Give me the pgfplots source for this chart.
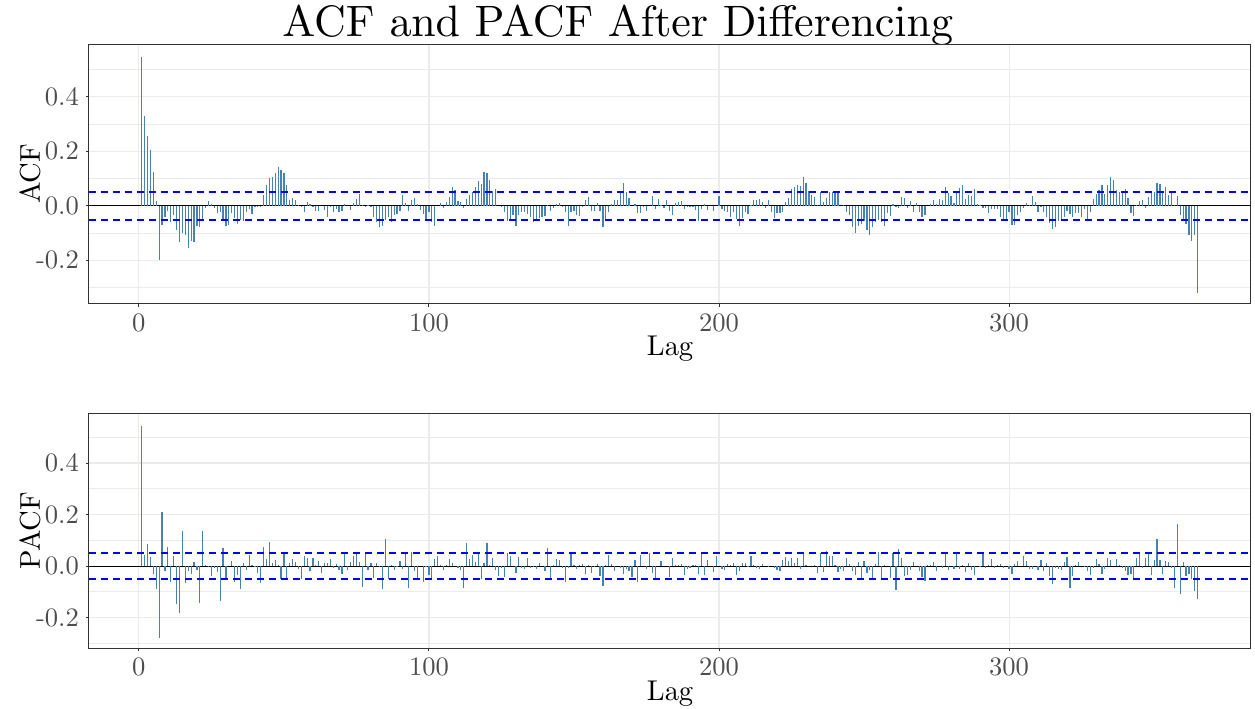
\documentclass[border=0pt]{standalone}
\usepackage{pgfplots}
\pgfplotsset{compat=1.18}
\definecolor{barblue}{RGB}{70,130,180}
\definecolor{gridgray}{RGB}{235,235,235}
\definecolor{framegray}{RGB}{51,51,51}
\definecolor{tickgray}{RGB}{77,77,77}
\definecolor{dashblue}{RGB}{0,0,255}
\font\tickfont=cmr10 at 13.3pt
\font\labfont=cmr10 at 14.3pt
\font\titfont=cmr10 at 22pt
\pgfplotsset{acfstyle/.style={
  scale only axis, width=581pt,
  xmin=-17.2, xmax=383.4,
  xtick={0,100,200,300}, xticklabels={0,100,200,300},
  ytick={-0.2,0,0.2,0.4}, yticklabels={-0.2,0.0,0.2,0.4},
  minor ytick={-0.3,-0.1,0.1,0.3,0.5},
  ymajorgrids, yminorgrids, xmajorgrids,
  grid style={gridgray, line width=0.55pt},
  minor grid style={gridgray, line width=0.45pt},
  axis line style={framegray, line width=0.5pt},
  xtick pos=bottom, ytick pos=left,
  tick align=outside, major tick length=1.5pt, minor tick length=0pt,
  tick style={framegray, line width=0.5pt},
  ticklabel style={font=\tickfont, text=tickgray},
  label style={font=\labfont},
  xlabel=Lag,
  xlabel style={at={(axis description cs:0.5,0)}, anchor=base, yshift=-26pt},
  ylabel style={at={(axis description cs:-0.0422,0.5)}, anchor=base},
  clip=true,
}}
\pgfplotsset{cibound/.style={draw=dashblue, line width=0.8pt, dash pattern=on 3.5pt off 2.5pt, forget plot}}
\begin{document}
\begin{tikzpicture}
\path[use as bounding box] (0,0) rectangle (627.5pt,354pt);
\node[font=\titfont, anchor=base] at (309pt,335.5pt) {ACF and PACF After Differencing};
\begin{axis}[acfstyle, at={(44.5pt,202pt)}, anchor=south west, height=130pt,
  ymin=-0.36, ymax=0.594, ylabel=ACF]
\addplot[black, line width=0.5pt, forget plot] coordinates {(-17.2,0) (383.4,0)};
\addplot[ycomb, draw=barblue, line width=0.6pt, mark=none, forget plot] coordinates {
(1,0.548)(2,0.33)(3,0.256)(4,0.205)(5,0.124)(6,0.017)(7,-0.2)(8,-0.07)(9,-0.04)(10,-0.017)
(11,-0.06)(12,-0.032)(13,-0.09)(14,-0.133)(15,-0.1)(16,-0.105)(17,-0.155)(18,-0.13)(19,-0.133)(20,-0.072)
(21,-0.078)(22,-0.054)(23,-0.008)(24,0.017)(25,0.006)(26,-0.007)(27,-0.026)(28,-0.024)(29,-0.048)(30,-0.072)
(31,-0.07)(32,-0.027)(33,-0.044)(34,-0.067)(35,-0.05)(36,-0.054)(37,-0.021)(38,-0.013)(39,-0.03)(40,-0.002)
(41,-0.001)(42,-0.005)(43,0.04)(44,0.078)(45,0.101)(46,0.105)(47,0.121)(48,0.141)(49,0.133)(50,0.121)
(51,0.077)(52,0.022)(53,0.03)(54,0.022)(55,0.002)(56,-0.005)(57,-0.021)(58,0.016)(59,0.007)(60,-0.005)
(61,-0.02)(62,-0.017)(63,0)(64,-0.015)(65,-0.04)(66,-0.005)(67,-0.023)(68,-0.013)(69,-0.023)(70,-0.02)
(71,0.006)(72,0)(73,-0.015)(74,0.01)(75,0.026)(76,0.045)(77,0.002)(78,0.001)(79,0.004)(80,-0.005)
(81,-0.04)(82,-0.06)(83,-0.076)(84,-0.075)(85,-0.052)(86,-0.041)(87,-0.06)(88,-0.032)(89,-0.03)(90,-0.017)
(91,0.039)(92,0.011)(93,-0.017)(94,0.02)(95,0.03)(96,0.007)(97,-0.015)(98,-0.03)(99,-0.05)(100,-0.021)
(101,-0.06)(102,-0.073)(103,0)(104,0.01)(105,-0.007)(106,0.016)(107,0.032)(108,0.068)(109,0.06)(110,0.017)
(111,0.013)(112,-0.007)(113,0.026)(114,0.04)(115,0.052)(116,0.068)(117,0.093)(118,0.08)(119,0.123)(120,0.122)
(121,0.096)(122,0.056)(123,0.062)(124,0)(125,-0.005)(126,-0.023)(127,-0.054)(128,-0.048)(129,-0.032)(130,-0.072)
(131,-0.032)(132,-0.021)(133,-0.021)(134,-0.03)(135,-0.04)(136,-0.06)(137,-0.054)(138,-0.045)(139,-0.04)(140,-0.037)
(141,0.004)(142,-0.017)(143,-0.008)(144,0.006)(145,0.01)(146,-0.004)(147,-0.021)(148,-0.073)(149,-0.023)(150,-0.02)
(151,-0.033)(152,-0.037)(153,-0.005)(154,0.02)(155,0.034)(156,-0.017)(157,-0.017)(158,0.01)(159,-0.02)(160,-0.076)
(161,-0.048)(162,-0.023)(163,0.007)(164,0.02)(165,0.022)(166,0.048)(167,0.085)(168,0.052)(169,0.029)(170,0)
(171,0.007)(172,-0.027)(173,-0.027)(174,-0.005)(175,-0.017)(176,0)(177,0.037)(178,-0.011)(179,0.027)(180,0.004)
(181,-0.007)(182,0.022)(183,-0.017)(184,-0.032)(185,0.01)(186,0.015)(187,0.017)(188,-0.013)(189,-0.005)(190,0.001)
(191,-0.005)(192,-0.015)(193,-0.054)(194,-0.013)(195,0.006)(196,-0.015)(197,0)(198,-0.017)(199,0)(200,0.035)
(201,-0.013)(202,-0.017)(203,-0.023)(204,-0.04)(205,-0.021)(206,-0.048)(207,-0.072)(208,-0.044)(209,-0.024)(210,-0.03)
(211,0.005)(212,0.02)(213,0.023)(214,0.024)(215,0.016)(216,-0.008)(217,0.02)(218,-0.021)(219,-0.044)(220,-0.027)
(221,-0.027)(222,-0.023)(223,0.016)(224,0.029)(225,0.061)(226,0.068)(227,0.076)(228,0.072)(229,0.105)(230,0.084)
(231,0.056)(232,0.039)(233,0.034)(234,0.004)(235,0.052)(236,0.016)(237,0.029)(238,0.05)(239,0.05)(240,0.056)
(241,0.056)(242,0)(243,0.004)(244,-0.021)(245,-0.032)(246,-0.078)(247,-0.099)(248,-0.073)(249,-0.066)(250,-0.054)
(251,-0.087)(252,-0.106)(253,-0.078)(254,-0.06)(255,-0.05)(256,-0.06)(257,-0.072)(258,-0.027)(259,-0.038)(260,0.007)
(261,-0.002)(262,-0.007)(263,0.034)(264,0.029)(265,-0.008)(266,0.018)(267,-0.021)(268,0.01)(269,-0.023)(270,-0.04)
(271,-0.035)(272,0)(273,0.007)(274,0.02)(275,0.006)(276,0.024)(277,0.02)(278,0.068)(279,0.048)(280,0.035)
(281,0.011)(282,0.049)(283,0.066)(284,0.076)(285,0.024)(286,0.04)(287,0.035)(288,0.061)(289,0.007)(290,0.004)
(291,-0.007)(292,-0.008)(293,-0.027)(294,-0.013)(295,-0.013)(296,-0.011)(297,-0.041)(298,-0.051)(299,-0.048)(300,-0.023)
(301,-0.07)(302,-0.07)(303,-0.035)(304,-0.023)(305,-0.007)(306,0.01)(307,0.005)(308,0.037)(309,0.013)(310,-0.023)
(311,-0.002)(312,-0.023)(313,-0.041)(314,-0.061)(315,-0.084)(316,-0.078)(317,-0.054)(318,-0.054)(319,-0.041)(320,-0.017)
(321,-0.03)(322,-0.041)(323,-0.027)(324,-0.027)(325,-0.04)(326,-0.011)(327,-0.05)(328,-0.021)(329,0.024)(330,0.043)
(331,0.059)(332,0.076)(333,0.044)(334,0.076)(335,0.105)(336,0.095)(337,0.059)(338,0.05)(339,0.048)(340,0.061)
(341,0.029)(342,-0.026)(343,-0.038)(344,0.004)(345,0.017)(346,0.023)(347,-0.008)(348,0.034)(349,0.05)(350,0.052)
(351,0.083)(352,0.08)(353,0.05)(354,0.068)(355,0.04)(356,0.05)(357,0.004)(358,0.038)(359,-0.032)(360,-0.05)
(361,-0.068)(362,-0.106)(363,-0.129)(364,-0.105)(365,-0.32)
};
\addplot[cibound] coordinates {(-17.2,0.0513) (383.4,0.0513)};
\addplot[cibound] coordinates {(-17.2,-0.0513) (383.4,-0.0513)};
\end{axis}
\begin{axis}[acfstyle, at={(44.5pt,30pt)}, anchor=south west, height=117.5pt,
  ymin=-0.318, ymax=0.594, ylabel=PACF]
\addplot[black, line width=0.5pt, forget plot] coordinates {(-17.2,0) (383.4,0)};
\addplot[ycomb, draw=barblue, line width=0.6pt, mark=none, forget plot] coordinates {
(1,0.543)(2,0.043)(3,0.087)(4,0.035)(5,-0.032)(6,-0.09)(7,-0.278)(8,0.211)(9,-0.019)(10,0.074)
(11,-0.062)(12,0.039)(13,-0.149)(14,-0.182)(15,0.136)(16,-0.066)(17,-0.021)(18,-0.03)(19,0.017)(20,-0.017)
(21,-0.144)(22,0.136)(23,0.005)(24,-0.004)(25,-0.04)(26,-0.008)(27,-0.023)(28,-0.136)(29,0.07)(30,-0.052)
(31,0)(32,0.019)(33,-0.062)(34,-0.034)(35,-0.088)(36,0.013)(37,-0.017)(38,0.044)(39,0.005)(40,-0.004)
(41,-0.026)(42,-0.065)(43,0.074)(44,0.028)(45,0.094)(46,0.013)(47,0.022)(48,0.005)(49,-0.049)(50,0.05)
(51,-0.045)(52,0.013)(53,0.026)(54,0.017)(55,-0.012)(56,-0.05)(57,0.041)(58,0.031)(59,-0.019)(60,0.032)
(61,0.005)(62,0.021)(63,-0.027)(64,0.013)(65,0.013)(66,0.027)(67,-0.008)(68,0.009)(69,-0.014)(70,-0.032)
(71,0.05)(72,-0.017)(73,0.017)(74,0.039)(75,0.05)(76,0.016)(77,-0.081)(78,0.05)(79,-0.017)(80,0.01)
(81,-0.045)(82,0.01)(83,-0.004)(84,-0.09)(85,0.105)(86,-0.052)(87,0.006)(88,-0.014)(89,-0.003)(90,0.019)
(91,-0.013)(92,0.05)(93,-0.084)(94,0.056)(95,-0.021)(96,-0.052)(97,0)(98,-0.062)(99,-0.003)(100,-0.034)
(101,-0.052)(102,0.026)(103,0.038)(104,0.006)(105,-0.014)(106,0.005)(107,0.026)(108,0.013)(109,0)(110,-0.008)
(111,-0.017)(112,-0.084)(113,0.089)(114,0.026)(115,0.044)(116,0.017)(117,0.053)(118,-0.052)(119,0.01)(120,0.089)
(121,0.006)(122,0.032)(123,-0.014)(124,-0.04)(125,-0.006)(126,-0.043)(127,0.05)(128,0.041)(129,0)(130,-0.027)
(131,0.035)(132,-0.006)(133,-0.013)(134,0.032)(135,-0.008)(136,-0.004)(137,-0.01)(138,0.012)(139,0)(140,-0.019)
(141,0.069)(142,-0.045)(143,0.005)(144,0.026)(145,0.025)(146,-0.006)(147,-0.062)(148,-0.006)(149,0.05)(150,0.006)
(151,-0.013)(152,0.006)(153,0.009)(154,-0.032)(155,0.005)(156,-0.025)(157,-0.004)(158,0.009)(159,-0.039)(160,-0.078)
(161,0.004)(162,0.043)(163,0.009)(164,-0.021)(165,0)(166,-0.008)(167,-0.03)(168,-0.013)(169,-0.019)(170,-0.043)
(171,0.025)(172,-0.062)(173,0.044)(174,0)(175,-0.013)(176,0.05)(177,-0.027)(178,-0.049)(179,0)(180,0.019)
(181,0)(182,0)(183,-0.043)(184,0.032)(185,0.006)(186,0.005)(187,0.009)(188,-0.035)(189,-0.013)(190,-0.008)
(191,0.005)(192,0.005)(193,-0.03)(194,0.05)(195,-0.035)(196,0.022)(197,0)(198,-0.023)(199,0.038)(200,0)
(201,-0.013)(202,-0.017)(203,0.009)(204,0.005)(205,0.013)(206,-0.034)(207,-0.019)(208,0.012)(209,0.013)(210,-0.004)
(211,0.039)(212,0.006)(213,-0.008)(214,-0.012)(215,0.009)(216,0)(217,-0.003)(218,0)(219,-0.008)(220,-0.014)
(221,-0.019)(222,0.022)(223,0.035)(224,0.018)(225,0.032)(226,0.013)(227,0.032)(228,-0.013)(229,0.05)(230,0.006)
(231,0)(232,0)(233,0.006)(234,-0.026)(235,0.05)(236,-0.023)(237,0.058)(238,0.041)(239,0.04)(240,0.006)
(241,-0.023)(242,-0.012)(243,-0.019)(244,0.031)(245,0.009)(246,-0.019)(247,-0.036)(248,0.016)(249,-0.049)(250,0.021)
(251,-0.027)(252,-0.017)(253,-0.049)(254,0.009)(255,0.053)(256,-0.052)(257,0.006)(258,0)(259,-0.045)(260,0.05)
(261,-0.094)(262,0.067)(263,0.031)(264,-0.039)(265,-0.036)(266,-0.014)(267,0.016)(268,0)(269,-0.021)(270,-0.043)
(271,-0.058)(272,0.005)(273,0.005)(274,0.017)(275,-0.019)(276,0)(277,-0.008)(278,0.056)(279,-0.017)(280,0)
(281,-0.013)(282,0.048)(283,-0.01)(284,0.006)(285,-0.023)(286,0.012)(287,-0.017)(288,-0.036)(289,0)(290,-0.003)
(291,0.05)(292,-0.006)(293,0.006)(294,0.028)(295,-0.008)(296,0.006)(297,0.009)(298,-0.008)(299,0)(300,-0.01)
(301,-0.03)(302,0.009)(303,0.018)(304,0)(305,0.039)(306,0.021)(307,-0.01)(308,-0.012)(309,0)(310,-0.017)
(311,0.025)(312,-0.019)(313,0.013)(314,-0.04)(315,-0.071)(316,-0.006)(317,-0.012)(318,-0.014)(319,0.014)(320,0.035)
(321,-0.085)(322,-0.04)(323,0.005)(324,0.016)(325,0)(326,-0.003)(327,-0.019)(328,-0.036)(329,-0.006)(330,0.026)
(331,0.009)(332,-0.032)(333,-0.01)(334,0.032)(335,0.022)(336,0)(337,0.027)(338,0.003)(339,-0.006)(340,-0.021)
(341,-0.036)(342,-0.03)(343,-0.053)(344,0.032)(345,0.05)(346,-0.006)(347,0.032)(348,0.05)(349,-0.034)(350,0.022)
(351,0.106)(352,0.025)(353,-0.03)(354,0.019)(355,0.017)(356,-0.006)(357,-0.084)(358,0.164)(359,-0.11)(360,0.017)
(361,-0.04)(362,-0.03)(363,-0.052)(364,-0.098)(365,-0.127)
};
\addplot[cibound] coordinates {(-17.2,0.0513) (383.4,0.0513)};
\addplot[cibound] coordinates {(-17.2,-0.0513) (383.4,-0.0513)};
\end{axis}
\end{tikzpicture}
\end{document}
